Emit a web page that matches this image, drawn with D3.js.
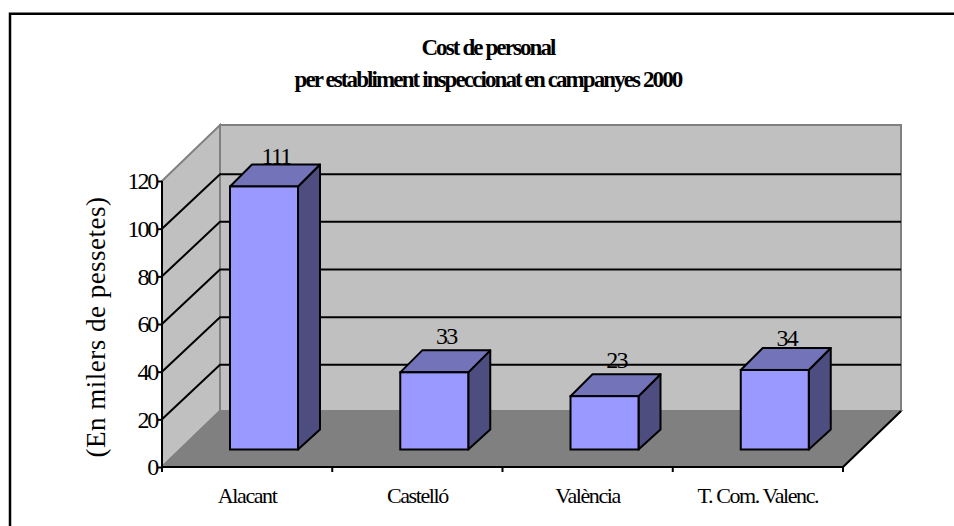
<!DOCTYPE html>
<html>
<head>
<meta charset="utf-8">
<script src="https://cdn.jsdelivr.net/npm/d3@7"></script>
<style>
  html, body { margin: 0; padding: 0; background: #fff; }
  svg { display: block; }
  text { font-family: "Liberation Serif", serif; fill: #000; }
</style>
</head>
<body>
<div id="cont"></div>
<script>
var categories = ["Alacant", "Castelló", "València", "T. Com. Valenc."];
var values = [111, 33, 23, 34];
var yTicks = [0, 20, 40, 60, 80, 100, 120];
var titleLines = ["Cost de personal", "per establiment inspeccionat en campanyes 2000"];
var yLabel = "(En milers de pessetes)";

var width = 954, height = 526;

var svg = d3.select("#cont").append("svg")
  .attr("width", width)
  .attr("height", height);

// the frame is cut off on the right and bottom, only these two sides show
svg.append("path")
  .attr("d", "M10,526V13.75H954")
  .attr("fill", "none")
  .attr("stroke", "#000")
  .attr("stroke-width", 2.5);

var x0 = 162, x1 = 843, yBase = 467, yTop = 181;
var depthX = 58, depthY = 56, gridDepth = 54.5;

var xScale = d3.scaleBand().domain(categories).range([x0, x1]);
var yScale = d3.scaleLinear().domain([0, 120]).range([yBase, yTop]);

function pts(a) {
  return a.map(function(p) { return p.join(","); }).join(" ");
}

var g = svg.append("g");

// back wall, side wall, floor
g.append("polygon")
  .attr("points", pts([[x0 + depthX, yTop - depthY], [x1 + depthX, yTop - depthY], [x1 + depthX, yBase - depthY], [x0 + depthX, yBase - depthY]]))
  .attr("fill", "#c0c0c0").attr("stroke", "#808080").attr("stroke-width", 2);
g.append("polygon")
  .attr("points", pts([[x0, yTop], [x0 + depthX, yTop - depthY], [x0 + depthX, yBase - depthY], [x0, yBase]]))
  .attr("fill", "#c0c0c0").attr("stroke", "#808080").attr("stroke-width", 2);
g.append("polygon")
  .attr("points", pts([[x0, yBase], [x0 + depthX, yBase - depthY], [x1 + depthX, yBase - depthY], [x1, yBase]]))
  .attr("fill", "#808080").attr("stroke", "#808080").attr("stroke-width", 2);

// gridlines run along the side wall then the back wall
g.selectAll(".grid")
  .data(yTicks.filter(function(d) { return d > 0 && d < 120; }))
  .enter().append("polyline")
  .attr("class", "grid")
  .attr("fill", "none")
  .attr("stroke", "#000")
  .attr("stroke-width", 2)
  .attr("points", function(d) {
    var y = yScale(d);
    return pts([[x0, y], [x0 + depthX, y - gridDepth], [x1 + depthX, y - gridDepth]]);
  });

// floor front and right edges, y axis
g.append("path")
  .attr("d", "M" + x0 + "," + yTop + "V" + yBase + "H" + x1 + "L" + (x1 + depthX) + "," + (yBase - depthY))
  .attr("fill", "none").attr("stroke", "#000").attr("stroke-width", 2);

// y axis ticks
var yAxis = d3.axisLeft(yScale).tickValues(yTicks).tickSize(5).tickPadding(0);
var yg = svg.append("g").attr("transform", "translate(" + x0 + ",0)").call(yAxis);
yg.select(".domain").remove();
yg.selectAll("line").attr("stroke", "#000").attr("stroke-width", 2);
yg.selectAll("text")
  .attr("font-size", 24).attr("font-family", "Liberation Serif").attr("letter-spacing", -2.2);

// x axis ticks sit between the categories
var xTicks = categories.map(function(d) { return xScale(d); }).concat([x1]);
svg.selectAll(".xtick")
  .data(xTicks)
  .enter().append("line")
  .attr("class", "xtick")
  .attr("x1", function(d) { return d; }).attr("x2", function(d) { return d; })
  .attr("y1", yBase).attr("y2", yBase + 5)
  .attr("stroke", "#000").attr("stroke-width", 2);

svg.selectAll(".xlabel")
  .data(categories)
  .enter().append("text")
  .attr("class", "xlabel")
  .attr("x", function(d) { return xScale(d) + xScale.bandwidth() / 2; })
  .attr("y", 503)
  .attr("text-anchor", "middle")
  .attr("font-size", 22)
  .attr("letter-spacing", -1.4)
  .text(function(d) { return d; });

// 3d bars
var barLeft = 68, barWidth = 68, barFloor = 449.5, barLift = 1.5;
var barDx = 22, barDyTop = 22, barDyBottom = 20;
var labelLift = [22, 28, 28, 24];
var data = categories.map(function(c, i) { return { name: c, value: values[i], lift: labelLift[i] }; });

function barX(d) { return xScale(d.name) + barLeft; }
function barY(d) { return yScale(d.value) - yBase + barFloor + barLift; }

// labels go first, the bar tops cover their feet
svg.selectAll(".barlabel").data(data).enter().append("text")
  .attr("class", "barlabel")
  .attr("x", function(d) { return barX(d) + barWidth / 2 + 12; })
  .attr("y", function(d) { return barY(d) - d.lift; })
  .attr("text-anchor", "middle")
  .attr("font-size", 24)
  .attr("letter-spacing", -1.8)
  .text(function(d) { return d.value; });

var bars = svg.selectAll(".bar").data(data).enter().append("g").attr("class", "bar");

bars.append("polygon")
  .attr("fill", "#4d4d80").attr("stroke", "#000").attr("stroke-width", 2).attr("stroke-linejoin", "round")
  .attr("points", function(d) {
    var l = barX(d) + barWidth, t = barY(d);
    return pts([[l, t], [l + barDx, t - barDyTop], [l + barDx, barFloor - barDyBottom], [l, barFloor]]);
  });
bars.append("polygon")
  .attr("fill", "#7373b9").attr("stroke", "#000").attr("stroke-width", 2).attr("stroke-linejoin", "round")
  .attr("points", function(d) {
    var l = barX(d), t = barY(d);
    return pts([[l, t], [l + barDx, t - barDyTop], [l + barWidth + barDx, t - barDyTop], [l + barWidth, t]]);
  });
bars.append("rect")
  .attr("fill", "#9999ff").attr("stroke", "#000").attr("stroke-width", 2)
  .attr("x", barX)
  .attr("y", barY)
  .attr("width", barWidth)
  .attr("height", function(d) { return barFloor - barY(d); });

// titles
svg.selectAll(".title")
  .data(titleLines)
  .enter().append("text")
  .attr("class", "title")
  .attr("x", 488)
  .attr("y", function(d, i) { return 55 + i * 32; })
  .attr("text-anchor", "middle")
  .attr("font-size", 23)
  .attr("font-weight", "bold")
  .attr("letter-spacing", -1.9)
  .text(function(d) { return d; });

svg.append("text")
  .attr("transform", "translate(105,327) rotate(-90)")
  .attr("text-anchor", "middle")
  .attr("font-size", 27)
  .attr("letter-spacing", 0.5)
  .text(yLabel);
</script>
</body>
</html>
